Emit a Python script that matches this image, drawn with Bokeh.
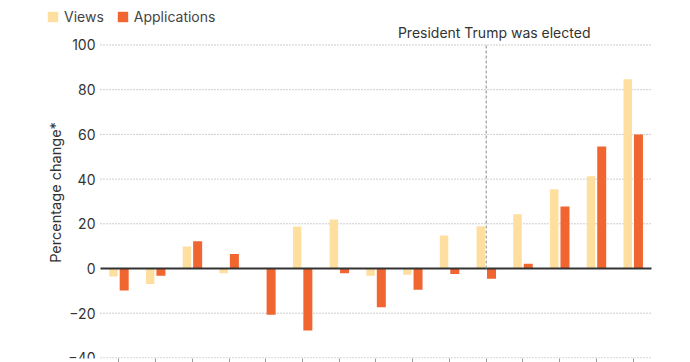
import math
from bokeh.plotting import figure
from bokeh.models import ColumnDataSource, FixedTicker, Legend, LegendItem, Range1d
from bokeh.transform import dodge
from bokeh.core.properties import value
from bokeh.embed import file_html
from bokeh.resources import INLINE

months = ["Jan 2024", "Feb 2024", "Mar 2024", "Apr 2024", "May 2024", "Jun 2024",
          "Jul 2024", "Aug 2024", "Sep 2024", "Oct 2024", "Nov 2024", "Dec 2024",
          "Jan 2025", "Feb 2025", "Mar 2025"]
views = [-3.6, -6.9, 9.8, -2.1, 0.0, 18.8, 21.9, -3.3, -2.8, 14.8, 18.9, 24.3, 35.5, 41.3, 84.7]
applications = [-9.8, -3.3, 12.2, 6.5, -20.7, -27.7, -2.1, -17.3, -9.5, -2.5, -4.6, 2.1, 27.7, 54.6, 60.0]
y_ticks = [-40, -20, 0, 20, 40, 60, 80, 100]
y_tick_labels = ["\u221240", "\u221220", "0", "20", "40", "60", "80", "100"]
y_title = "Percentage change*"
event_month = "Nov 2024"
event_label = "President Trump was elected"

FONT = "Inter"
VIEW_COLOR = "#FEDF9F"
APP_COLOR = "#F06530"
TEXT_COLOR = "#333333"

idx = list(range(len(months)))
ev = months.index(event_month)
left_edge = idx[0] - 0.5
right_edge = idx[-1] + 0.5

source = ColumnDataSource(dict(idx=idx, month=months, views=views, applications=applications))

# frame covers the whole canvas horizontally; categories sit at 36.73px pitch
p = figure(width=690, height=362,
           x_range=Range1d(-3.222, 15.562), y_range=Range1d(-40.27, 119.9),
           output_backend="svg", toolbar_location=None,
           min_border_left=0, min_border_right=0, min_border_top=0, min_border_bottom=0)
p.outline_line_color = None
p.background_fill_color = "white"
p.border_fill_color = "white"
p.yaxis.visible = False
p.xgrid.visible = False
p.ygrid.visible = False

# horizontal grid lines (dotted) spanning the category block
grid_y = [t for t in y_ticks if t != 0]
p.segment(x0=[left_edge] * len(grid_y), x1=[right_edge] * len(grid_y), y0=grid_y, y1=grid_y,
          line_color="#9a9a9a", line_width=1, line_dash="1 2")

r_views = p.vbar(x=dodge("idx", -0.147), top="views", width=0.23,
                 source=source, fill_color=VIEW_COLOR, line_color=None)
r_apps = p.vbar(x=dodge("idx", 0.145), top="applications", width=0.245,
                source=source, fill_color=APP_COLOR, line_color=None)

# zero line
p.segment(x0=[left_edge], x1=[right_edge], y0=[0], y1=[0], line_color="#333333", line_width=2)

# event line and label
p.segment(x0=[ev], y0=[0], x1=[ev], y1=[y_ticks[-1]],
          line_color="#888888", line_width=1, line_dash="3 2")
p.text(x=[ev], y=[y_ticks[-1]], text=[event_label], x_offset=8, y_offset=-12,
       text_align="center", text_baseline="alphabetic",
       text_font=value(FONT), text_font_size="14px", text_color=TEXT_COLOR)

# y tick labels
p.text(x=[left_edge] * len(y_ticks), y=y_ticks, text=y_tick_labels, x_offset=-5,
       text_align="right", text_baseline="middle",
       text_font=value(FONT), text_font_size="14px", text_color=TEXT_COLOR)

# y axis title
p.text(x=[left_edge], y=[34], text=[y_title], x_offset=-45, angle=math.pi / 2,
       text_align="center", text_baseline="middle",
       text_font=value(FONT), text_font_size="14.5px", text_color=TEXT_COLOR)

# x axis: tick marks only (labels fall outside the view)
p.xaxis.ticker = FixedTicker(ticks=idx)
p.xaxis.axis_line_color = None
p.xaxis.major_tick_line_color = "#9a9a9a"
p.xaxis.minor_tick_line_color = None
p.xaxis.major_tick_out = 4
p.xaxis.major_tick_in = 0
p.xaxis.major_label_text_font_size = "0px"
p.xaxis.major_label_standoff = 0

legend = Legend(items=[LegendItem(label="Views", renderers=[r_views]),
                       LegendItem(label="Applications", renderers=[r_apps])],
                orientation="horizontal", location=(46, 333))
legend.padding = 0
legend.margin = 0
legend.spacing = 12
legend.border_line_color = None
legend.background_fill_alpha = 0
legend.glyph_width = 13
legend.glyph_height = 13
legend.label_height = 13
legend.label_standoff = 5
legend.label_text_font = FONT
legend.label_text_font_size = "14px"
legend.label_text_color = "#444444"
p.add_layout(legend, "center")

open("out.html", "w").write(file_html(p, INLINE))
